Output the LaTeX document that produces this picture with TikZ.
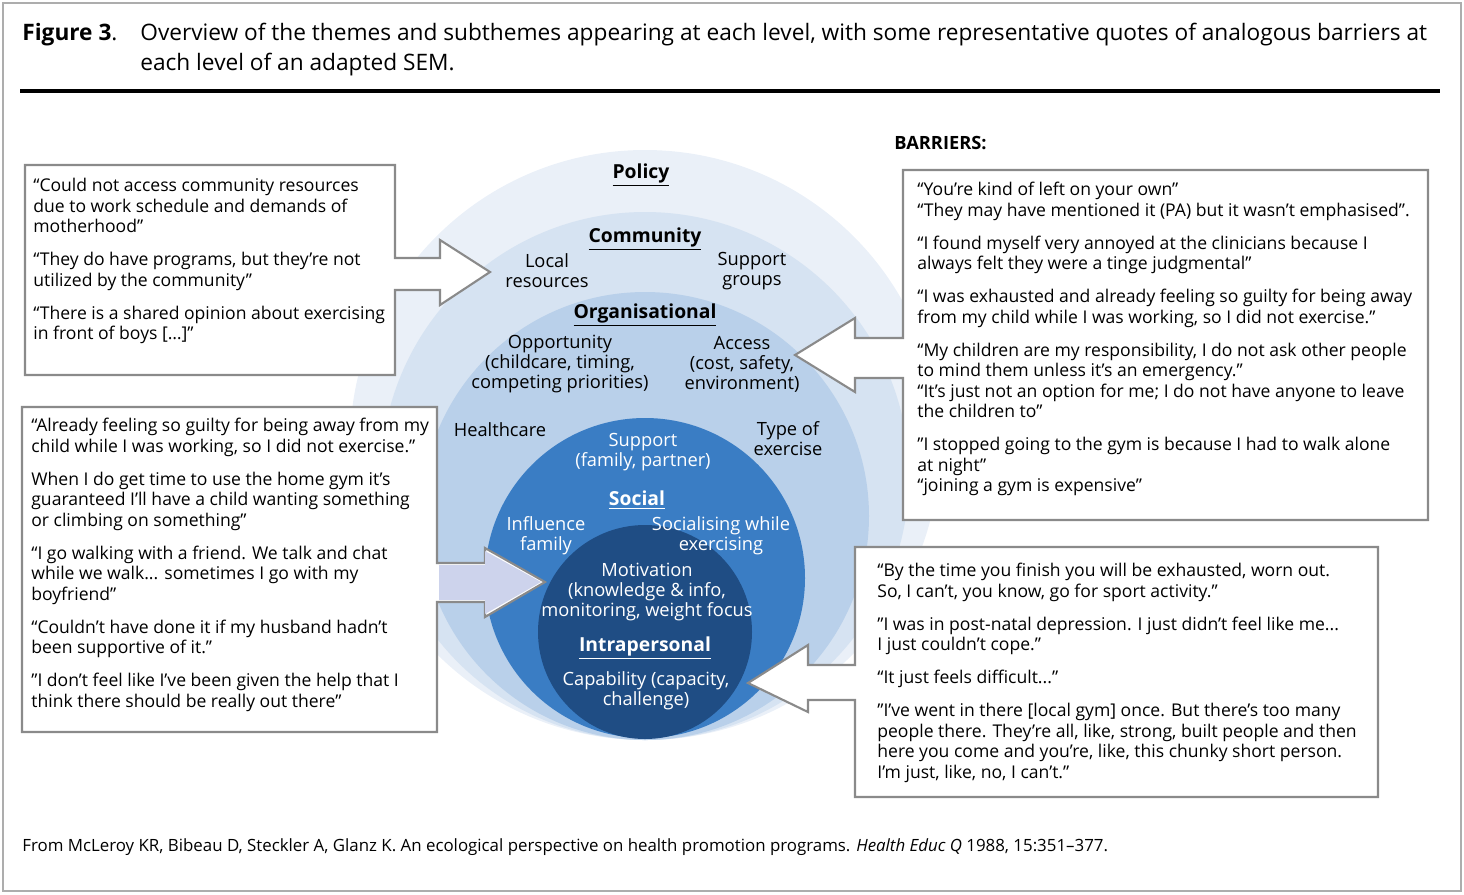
\documentclass[tikz,border=0pt]{standalone}
\usepackage{fontspec}
\setmainfont{Open Sans}
\definecolor{RingA}{HTML}{EAF0F8}
\definecolor{RingB}{HTML}{D6E3F2}
\definecolor{RingC}{HTML}{B9D0EA}
\definecolor{SocialBlue}{HTML}{3A7DC4}
\definecolor{IntraBlue}{HTML}{1F4D84}
\definecolor{BoxLine}{HTML}{8A8A8A}
\definecolor{ArrowFill}{HTML}{CDD3EC}
\usetikzlibrary{positioning}
\tikzset{
  quote/.style={font=\fontsize{10}{11.7}\selectfont,align=left,anchor=north west,inner sep=0pt},
  ring/.style={font=\fontsize{10.4}{11.4}\selectfont,align=center,inner sep=0pt},
  level/.style={font=\fontsize{11}{12}\selectfont\bfseries,inner sep=0pt},
  callout/.style={draw=BoxLine,line width=1.2pt,fill=white,line join=miter}
}
\newcommand{\lvl}[1]{\underline{#1}}
\begin{document}
\begin{tikzpicture}[x=0.02cm,y=-0.02cm]
  \useasboundingbox (0,0) rectangle (1464,894);
  \draw[BoxLine!70,line width=0.8pt] (3,3) rectangle (1461,891);
  % header
  \node[anchor=north west,inner sep=0pt,font=\fontsize{12.9}{17}\selectfont\bfseries] (figlabel) at (22,23)
    {Figure 3\mdseries.};
  \node[anchor=north west,inner sep=0pt,font=\fontsize{12.9}{17}\selectfont,align=left] (title) at (140,23)
    {Overview of the themes and subthemes appearing at each level, with some representative quotes of analogous barriers at\\
     each level of an adapted SEM.};
  \draw[line width=2.5pt] (20,91) -- (1440,91);
  % rings
  \fill[RingA] (645,445) circle (295);
  \fill[RingB] (645,476) circle (264);
  \fill[RingC] (645,516) circle (224);
  \fill[SocialBlue] (645,578) circle (160);
  \fill[IntraBlue] (645,632) circle (107);
  % ring labels
  \node[level] (policy) at (641,175) {\lvl{Policy}};
  \node[level] (community) at (645,239) {\lvl{Community}};
  \node[ring] (local) at (547,271) {Local\\resources};
  \node[ring] (groups) at (752,271) {Support\\groups};
  \node[level] (organisational) at (645,315) {\lvl{Organisational}};
  \node[ring] (opportunity) at (560,364) {Opportunity\\(childcare, timing,\\competing priorities)};
  \node[ring] (access) at (742,364) {Access\\(cost, safety,\\environment)};
  \node[ring] (healthcare) at (500,430) {Healthcare};
  \node[ring] (exercise) at (788,439) {Type of\\exercise};
  \node[ring,text=white] (support) at (643,452) {Support\\(family, partner)};
  \node[level,text=white] (social) at (637,500) {\lvl{Social}};
  \node[ring,text=white] (influence) at (546,536) {Influence\\family};
  \node[ring,text=white] (socialising) at (721,536) {Socialising while\\exercising};
  \node[ring,text=white] (motivation) at (647,592) {Motivation\\(knowledge \& info,\\monitoring, weight focus};
  \node[level,text=white] (intrapersonal) at (645,648) {\lvl{Intrapersonal}};
  \node[ring,text=white] (capability) at (646,691) {Capability (capacity,\\challenge)};
  % callout boxes
  \draw[callout] (25,165) -- (395,165) -- (395,258) -- (440,258) -- (440,240) -- (490,272)
    -- (440,305) -- (440,290) -- (395,290) -- (395,375) -- (25,375) -- cycle;
  \draw[callout] (903,170) -- (1428,170) -- (1428,520) -- (903,520) -- (903,378) -- (855,378)
    -- (855,392) -- (795,355) -- (855,318) -- (855,338) -- (903,338) -- cycle;
  \draw[callout] (22,407) -- (437,407) -- (437,563) -- (485,563) -- (485,548) -- (545,582)
    -- (485,617) -- (485,602) -- (437,602) -- (437,732) -- (22,732) -- cycle;
  \fill[ArrowFill] (439,565) -- (485,565) -- (485,551) -- (541,582) -- (485,614) -- (485,600) -- (439,600) -- cycle;
  \draw[callout] (855,547) -- (1378,547) -- (1378,797) -- (855,797) -- (855,700) -- (808,700)
    -- (808,712) -- (748,683) -- (808,645) -- (808,665) -- (855,665) -- cycle;
  \node[font=\fontsize{10.4}{12}\selectfont\bfseries,anchor=west,inner sep=0pt] (barriers) at (894,143) {BARRIERS:};
  % quotes
  \node[quote] (quoteA) at (33,178)
    {“Could not access community resources\\due to work schedule and demands of\\motherhood”\\[7pt]
     “They do have programs, but they’re not\\utilized by the community”\\[7pt]
     “There is a shared opinion about exercising\\in front of boys [\dots]”};
  \node[quote] (quoteB) at (917,182)
    {“You’re kind of left on your own”\\“They may have mentioned it (PA) but it wasn’t emphasised”.\\[7pt]
     “I found myself very annoyed at the clinicians because I\\always felt they were a tinge judgmental”\\[7pt]
     “I was exhausted and already feeling so guilty for being away\\from my child while I was working, so I did not exercise.”\\[7pt]
     “My children are my responsibility, I do not ask other people\\to mind them unless it’s an emergency.”\\
     “It’s just not an option for me; I do not have anyone to leave\\the children to”\\[7pt]
     "I stopped going to the gym is because I had to walk alone\\at night”\\“joining a gym is expensive”};
  \node[quote] (quoteC) at (31,418)
    {“Already feeling so guilty for being away from my\\child while I was working, so I did not exercise.”\\[7pt]
     When I do get time to use the home gym it’s\\guaranteed I’ll have a child wanting something\\or climbing on something”\\[7pt]
     “I go walking with a friend. We talk and chat\\while we walk... sometimes I go with my\\boyfriend”\\[7pt]
     “Couldn’t have done it if my husband hadn’t\\been supportive of it.”\\[7pt]
     "I don’t feel like I’ve been given the help that I\\think there should be really out there”};
  \node[quote] (quoteD) at (877,563)
    {“By the time you finish you will be exhausted, worn out.\\So, I can’t, you know, go for sport activity.”\\[7pt]
     "I was in post-natal depression. I just didn’t feel like me...\\I just couldn’t cope."\\[7pt]
     “It just feels difficult...”\\[7pt]
     "I’ve went in there [local gym] once. But there’s too many\\people there. They’re all, like, strong, built people and then\\here you come and you’re, like, this chunky short person.\\I’m just, like, no, I can’t."};
  % footer
  \node[anchor=west,inner sep=0pt,font=\fontsize{9.6}{11}\selectfont] (source) at (22,847)
    {From McLeroy KR, Bibeau D, Steckler A, Glanz K. An ecological perspective on health promotion programs. \textit{Health Educ Q} 1988, 15:351–377.};
\end{tikzpicture}
\end{document}
